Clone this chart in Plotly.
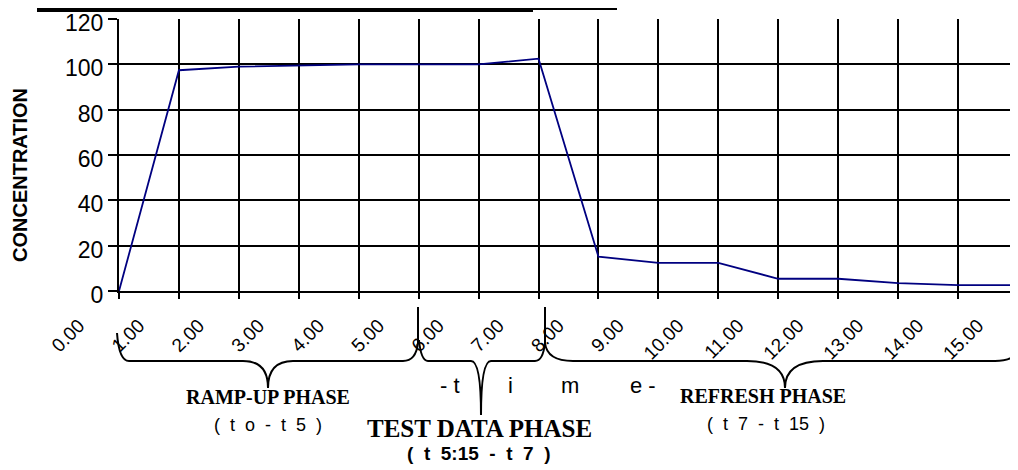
import plotly.graph_objects as go

# ---- data ----
time = [0, 1, 2, 3, 4, 5, 6, 7, 8, 9, 10, 11, 12, 13, 14, 15]
time_labels = ["0.00", "1.00", "2.00", "3.00", "4.00", "5.00", "6.00", "7.00",
               "8.00", "9.00", "10.00", "11.00", "12.00", "13.00", "14.00", "15.00"]
concentration = [0, 97.4, 99.0, 99.4, 100, 100, 100, 102.5,
                 15.1, 12.4, 12.4, 5.4, 5.4, 3.5, 2.6, 2.6]
y_ticks = [0, 20, 40, 60, 80, 100, 120]

W, H = 1018, 470
OFF = 8  # default page body margin
L, R, T, B = 119, 1018, 19, 291  # plot area in window pixels


def px(X):
    return (X - L) / (R - L)


def py(Y):
    return (B - Y) / (B - T)


def pt(X, Y):
    return f"{px(X):.5f},{py(Y):.5f}"


def brace(x0, y0, x1, y1, xt, yt, yb, r0=12, rt=25, r1=15):
    return (f"M {pt(x0, y0)} Q {pt(x0 + 2, yb)} {pt(x0 + r0, yb)} "
            f"L {pt(xt - rt, yb)} Q {pt(xt, yb)} {pt(xt, yt)} "
            f"Q {pt(xt, yb)} {pt(xt + rt, yb)} "
            f"L {pt(x1 - r1, yb)} Q {pt(x1 - 2, yb)} {pt(x1, y1)}")


fig = go.Figure(go.Scatter(
    x=time, y=concentration, mode="lines",
    line=dict(color="#000080", width=1.8),
    hoverinfo="x+y", showlegend=False,
))

black = "#000000"
sans = "Liberation Sans, Arial, sans-serif"
serif = "Liberation Serif, Times New Roman, serif"

fig.update_layout(
    width=W - OFF, height=H - OFF,
    margin=dict(l=L - OFF, r=W - R, t=T - OFF, b=H - B, pad=0),
    paper_bgcolor="white", plot_bgcolor="white",
    font=dict(family=sans, color=black),
    xaxis=dict(
        range=[0, 15], tickmode="array", tickvals=time, ticktext=time_labels,
        tickangle=-45, tickfont=dict(family=sans, size=19, color=black),
        showgrid=True, gridcolor=black, gridwidth=2,
        ticks="outside", ticklen=6, tickwidth=2, tickcolor=black,
        showline=True, linecolor=black, linewidth=2, zeroline=False,
        ticklabelshift=-40, ticklabelstandoff=8,
    ),
    yaxis=dict(
        range=[0, 120], tickmode="array", tickvals=y_ticks,
        tickfont=dict(family=sans, size=23, color=black),
        showgrid=True, gridcolor=black, gridwidth=2,
        ticks="outside", ticklen=9, tickwidth=2, tickcolor=black,
        showline=True, linecolor=black, linewidth=2, zeroline=False,
        ticklabelshift=4,
    ),
)

shapes = []
ln = dict(color=black, width=2)
# braces
shapes.append(dict(type="path", xref="paper", yref="paper", line=ln,
                   path=brace(117, 333, 418, 343, 268, 388, 361)))
shapes.append(dict(type="path", xref="paper", yref="paper", line=ln,
                   path=brace(419, 340, 545, 343, 481, 415, 361, r0=9, rt=10, r1=10)))
shapes.append(dict(type="path", xref="paper", yref="paper", line=ln,
                   path=brace(545, 343, 1017, 350, 785, 388, 361, r0=28, rt=38, r1=22)))
# vertical separators
for X in (418, 545):
    shapes.append(dict(type="line", xref="paper", yref="paper", line=ln,
                       x0=px(X), x1=px(X), y0=py(307), y1=py(343)))
# top (cut-off) title underline
shapes.append(dict(type="line", xref="paper", yref="paper",
                   line=dict(color=black, width=4),
                   x0=px(37), x1=px(533), y0=py(10), y1=py(10)))
shapes.append(dict(type="line", xref="paper", yref="paper",
                   line=dict(color=black, width=2),
                   x0=px(533), x1=px(617), y0=py(9), y1=py(9)))
fig.update_layout(shapes=shapes)


def ann(text, X, Y, family, size, bold=False, angle=0):
    return dict(text=f"<b>{text}</b>" if bold else text,
                xref="paper", yref="paper", x=px(X), y=py(Y),
                xanchor="center", yanchor="middle", showarrow=False,
                textangle=angle, font=dict(family=family, size=size, color=black))


annotations = [
    ann("CONCENTRATION", 20, 175, sans, 20, bold=True, angle=-90),
    ann("RAMP-UP PHASE", 268, 397, serif, 20, bold=True),
    ann("(  t  o  -  t  5  )", 268, 425, sans, 18),
    ann("TEST DATA PHASE", 479, 428, serif, 25, bold=True),
    ann("(  t  5:15  -  t  7  )", 479, 454, sans, 19, bold=True),
    ann("REFRESH PHASE", 763, 396, serif, 20, bold=True),
    ann("(  t  7  -  t  15  )", 766, 424, sans, 18),
    ann("- t", 450, 386, sans, 22),
    ann("i", 510, 386, sans, 22),
    ann("m", 570, 386, sans, 22),
    ann("e -", 643, 386, sans, 22),
]
fig.update_layout(annotations=annotations)

fig.write_html("out.html")
